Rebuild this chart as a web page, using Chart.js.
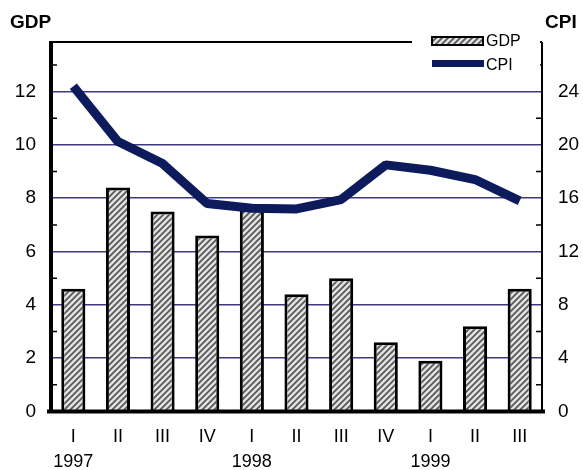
<!DOCTYPE html>
<html>
<head>
<meta charset="utf-8">
<script src="https://cdn.jsdelivr.net/npm/chart.js@4/dist/chart.umd.min.js"></script>
<style>
  body { margin: 0; background: #fff; }
  canvas { display: block; }
</style>
</head>
<body>
<canvas id="grafico" width="583" height="470"></canvas>
<script>
const trimestres = ["I", "II", "III", "IV", "I", "II", "III", "IV", "I", "II", "III"];
const anos = ["1997", "", "", "", "1998", "", "", "", "1999", "", ""];
const gdp = [4.6, 8.4, 7.5, 6.6, 7.6, 4.4, 5.0, 2.6, 1.9, 3.2, 4.6];
const cpi = [24.4, 20.25, 18.6, 15.6, 15.25, 15.2, 15.9, 18.5, 18.1, 17.4, 15.8];

const fonte = "'Liberation Sans', Arial, sans-serif";
const azul = "#0d1a5c";
const corGrade = "#40387f";

// padrão hachurado das barras
function criarPadrao() {
  const c = document.createElement("canvas");
  c.width = 6;
  c.height = 6;
  const g = c.getContext("2d");
  g.fillStyle = "#e2e2e2";
  g.fillRect(0, 0, 6, 6);
  g.strokeStyle = "#585858";
  g.lineWidth = 1.8;
  g.beginPath();
  g.moveTo(-1, 7); g.lineTo(7, -1);
  g.moveTo(-4, 4); g.lineTo(4, -4);
  g.moveTo(2, 10); g.lineTo(10, 2);
  g.stroke();
  return g.createPattern(c, "repeat");
}
const padrao = criarPadrao();

const labels = trimestres.map((t, i) => anos[i] ? [t, anos[i]] : [t, ""]);

const molduraPlugin = {
  id: "moldura",
  afterDatasetsDraw(chart) {
    const ctx = chart.ctx;
    const a = chart.chartArea;
    const yL = chart.scales.y;
    const yR = chart.scales.y2;
    ctx.save();
    ctx.strokeStyle = "#000";

    // marcas menores para dentro
    ctx.lineWidth = 1.5;
    ctx.beginPath();
    for (let v = 1; v < 14; v += 2) {
      const p = yL.getPixelForValue(v);
      ctx.moveTo(a.left, p); ctx.lineTo(a.left + 6, p);
    }
    for (let v = 2; v < 28; v += 4) {
      const p = yR.getPixelForValue(v);
      ctx.moveTo(a.right, p); ctx.lineTo(a.right - 6, p);
    }
    ctx.stroke();

    // topo e eixo direito
    ctx.lineWidth = 2;
    ctx.beginPath();
    ctx.moveTo(a.left, a.top); ctx.lineTo(a.right, a.top);
    ctx.moveTo(a.right, a.top); ctx.lineTo(a.right, a.bottom);
    ctx.stroke();

    // eixo esquerdo e base grossos
    ctx.lineWidth = 4;
    ctx.beginPath();
    ctx.moveTo(a.left, a.top - 1); ctx.lineTo(a.left, a.bottom + 2);
    ctx.moveTo(a.left - 4, a.bottom); ctx.lineTo(a.right + 3, a.bottom);
    ctx.stroke();
    ctx.restore();
  },
  afterDraw(chart) {
    const ctx = chart.ctx;
    const ds = chart.data.datasets;
    ctx.save();

    // legenda
    ctx.fillStyle = "#fff";
    ctx.fillRect(412, 30, 128, 44);
    ctx.fillStyle = padrao;
    ctx.fillRect(432, 37, 51, 8);
    ctx.strokeStyle = "#000";
    ctx.lineWidth = 2;
    ctx.strokeRect(432, 37, 51, 8);
    ctx.fillStyle = azul;
    ctx.fillRect(432, 60, 52, 7);
    ctx.fillStyle = "#000";
    ctx.font = "16px " + fonte;
    ctx.textBaseline = "middle";
    ctx.textAlign = "left";
    ctx.fillText(ds[0].label, 486, 42);
    ctx.fillText(ds[1].label, 486, 66);

    // títulos dos eixos
    ctx.font = "bold 19px " + fonte;
    ctx.textBaseline = "alphabetic";
    ctx.fillText("GDP", 10, 28);
    ctx.fillText("CPI", 545, 28);
    ctx.restore();
  }
};

new Chart(document.getElementById("grafico"), {
  data: {
    labels: labels,
    datasets: [
      {
        type: "bar",
        label: "GDP",
        data: gdp,
        yAxisID: "y",
        backgroundColor: padrao,
        borderColor: "#000",
        borderWidth: 3,
        borderSkipped: "bottom",
        barPercentage: 0.54,
        categoryPercentage: 1,
        order: 1
      },
      {
        type: "line",
        label: "CPI",
        data: cpi,
        yAxisID: "y2",
        borderColor: azul,
        backgroundColor: azul,
        borderWidth: 9,
        borderCapStyle: "butt",
        borderJoinStyle: "bevel",
        pointRadius: 0,
        tension: 0,
        order: 0
      }
    ]
  },
  options: {
    responsive: false,
    animation: false,
    layout: { padding: { top: 42, left: 0, right: 0, bottom: 0 } },
    plugins: {
      legend: { display: false },
      tooltip: { enabled: false }
    },
    scales: {
      x: {
        offset: true,
        grid: { display: false, drawTicks: false },
        border: { display: false },
        ticks: {
          color: "#000",
          font: { family: fonte, size: 18, lineHeight: 1.4 },
          padding: 13,
          maxRotation: 0,
          autoSkip: false
        },
        afterFit(scale) { scale.height = 58.5; }
      },
      y: {
        position: "left",
        min: 0,
        max: 13.86,
        grid: {
          color: ctx => ctx.tick && ctx.tick.value > 0 ? corGrade : "transparent",
          lineWidth: 1.5,
          drawTicks: false
        },
        border: { display: false },
        ticks: {
          stepSize: 2,
          includeBounds: false,
          color: "#000",
          font: { family: fonte, size: 19 },
          padding: 15
        },
        afterFit(scale) { scale.width = 51; }
      },
      y2: {
        position: "right",
        min: 0,
        max: 27.72,
        grid: { display: false, drawTicks: false },
        border: { display: false },
        ticks: {
          stepSize: 4,
          includeBounds: false,
          color: "#000",
          font: { family: fonte, size: 19 },
          padding: 16
        },
        afterFit(scale) { scale.width = 41; }
      }
    }
  },
  plugins: [molduraPlugin]
});
</script>
</body>
</html>
